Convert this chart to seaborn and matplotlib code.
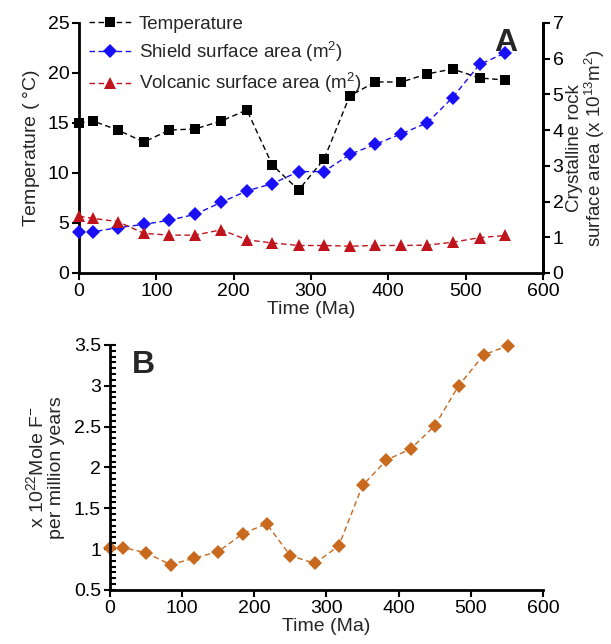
import matplotlib
matplotlib.use('Agg')
import matplotlib.pyplot as plt
import matplotlib.ticker as mticker
import seaborn as sns
import pandas as pd

# ages (Ma) shared by every series
time_ma = [0, 18, 50, 84, 117, 150, 184, 217, 250, 284, 317, 350, 383, 417, 450, 483, 518, 551]

temperature = [15.0, 15.2, 14.3, 13.1, 14.3, 14.4, 15.2, 16.3, 10.8, 8.3, 11.4, 17.7,
               19.1, 19.1, 19.9, 20.4, 19.5, 19.3]
shield_area = [1.16, 1.15, 1.27, 1.36, 1.48, 1.64, 1.98, 2.30, 2.50, 2.84, 2.84, 3.32,
               3.60, 3.90, 4.20, 4.91, 5.84, 6.16]
volcanic_area = [1.59, 1.53, 1.44, 1.11, 1.06, 1.06, 1.21, 0.93, 0.84, 0.77, 0.77, 0.75,
                 0.77, 0.77, 0.78, 0.86, 0.99, 1.05]
fluoride_flux = [1.01, 1.02, 0.955, 0.81, 0.89, 0.97, 1.19, 1.31, 0.92, 0.825, 1.04, 1.78,
                 2.09, 2.23, 2.51, 3.00, 3.38, 3.49]

df = pd.DataFrame({'time': time_ma, 'temp': temperature, 'shield': shield_area,
                   'volc': volcanic_area, 'flux': fluoride_flux})

sns.set_style('ticks')
plt.rcParams['font.family'] = ['Liberation Sans', 'DejaVu Sans']
plt.rcParams['mathtext.fontset'] = 'custom'
plt.rcParams['mathtext.rm'] = 'Liberation Sans'
plt.rcParams['axes.linewidth'] = 2
plt.rcParams['axes.edgecolor'] = 'black'
plt.rcParams['xtick.color'] = 'black'
plt.rcParams['ytick.color'] = 'black'

fig = plt.figure(figsize=(6.11, 6.44), dpi=100)
ax1 = fig.add_axes([0.1293, 0.5761, 0.7594, 0.3882])
ax2 = ax1.twinx()
ax3 = fig.add_axes([0.180, 0.0839, 0.7087, 0.3804])

line_kw = dict(linestyle=(0, (4, 2.5)), linewidth=1.0, markersize=7, markeredgewidth=0,
               clip_on=False)

sns.lineplot(data=df, x='time', y='temp', ax=ax1, color='black', marker='s',
             label='Temperature', legend=False, **line_kw)
sns.lineplot(data=df, x='time', y='shield', ax=ax2, color='#1a10f5', marker='D',
             label='Shield surface area (m$^2$)', legend=False, **line_kw)
sns.lineplot(data=df, x='time', y='volc', ax=ax2, color='#c0141c', marker='^',
             label='Volcanic surface area (m$^2$)', legend=False,
             **{**line_kw, 'markersize': 8})

ax1.set_xlim(0, 600)
ax1.set_ylim(0, 25)
ax2.set_ylim(0, 7)
ax1.set_xticks(range(0, 601, 100))
ax1.set_yticks(range(0, 26, 5))
ax2.set_yticks(range(0, 8))
ax1.set_xlabel('Time (Ma)', fontsize=14, labelpad=1)
ax1.set_ylabel('Temperature ( $\\degree$C)', fontsize=14, labelpad=4)
ax2.set_ylabel('Crystalline rock\nsurface area (x 10$^{13}$m$^2$)', fontsize=13.5,
               labelpad=2, linespacing=0.95)
for a in (ax1, ax2):
    a.spines['top'].set_visible(False)
    a.tick_params(labelsize=14, length=5, width=1.5, direction='out', pad=2)
ax2.spines['left'].set_visible(False)
ax2.spines['bottom'].set_visible(False)
ax1.text(0.92, 0.98, 'A', transform=ax1.transAxes, fontsize=23, fontweight='bold',
         ha='center', va='top')

handles = ax1.get_legend_handles_labels()[0] + ax2.get_legend_handles_labels()[0]
labels = ax1.get_legend_handles_labels()[1] + ax2.get_legend_handles_labels()[1]
ax1.legend(handles, labels, loc='upper left', bbox_to_anchor=(0.005, 1.06), frameon=False,
           fontsize=13.5, handlelength=2.3, handletextpad=0.35, labelspacing=0.35,
           borderaxespad=0)

sns.lineplot(data=df, x='time', y='flux', ax=ax3, color='#c8691e', marker='D',
             legend=False, **line_kw)
ax3.set_xlim(0, 600)
ax3.set_ylim(0.5, 3.5)
ax3.set_xticks(range(0, 601, 100))
ax3.set_yticks([0.5, 1, 1.5, 2, 2.5, 3, 3.5])
ax3.yaxis.set_major_formatter(mticker.FormatStrFormatter('%g'))
ax3.yaxis.set_minor_locator(mticker.MultipleLocator(0.5 / 7))
ax3.spines['top'].set_visible(False)
ax3.spines['right'].set_visible(False)
ax3.tick_params(labelsize=14, pad=2)
ax3.tick_params(axis='x', length=5, width=1.5, direction='out')
ax3.tick_params(axis='y', which='major', length=9, width=1.5, direction='inout')
ax3.tick_params(axis='y', which='minor', left=True, length=4, width=1.5, direction='in')
ax3.set_xlabel('Time (Ma)', fontsize=14, labelpad=1)
ax3.set_ylabel('x 10$^{22}$Mole F$^{-}$\nper million years', fontsize=14, labelpad=6,
               linespacing=1.0)
ax3.text(0.05, 0.98, 'B', transform=ax3.transAxes, fontsize=23, fontweight='bold',
         ha='left', va='top')

fig.savefig('out.png', dpi=100)
